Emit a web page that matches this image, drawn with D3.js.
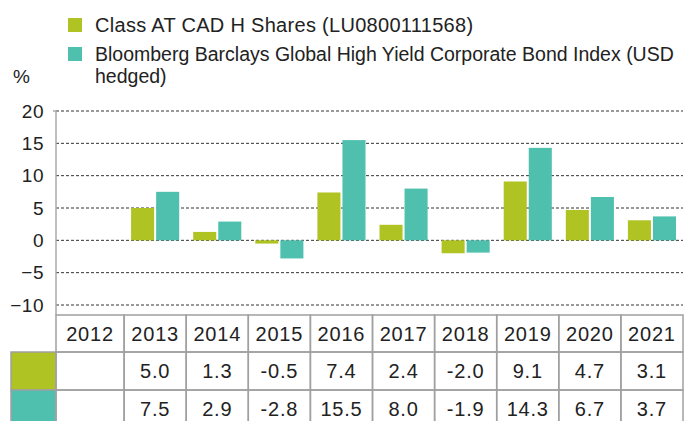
<!DOCTYPE html>
<html>
<head>
<meta charset="utf-8">
<script src="https://cdn.jsdelivr.net/npm/d3@7"></script>
<style>
  body { margin: 0; background: #fff; }
  text { font-family: "Liberation Sans", Arial, sans-serif; fill: #222; }
</style>
</head>
<body>
<div id="chart"></div>
<script>
// Dữ liệu
const years = ["2012","2013","2014","2015","2016","2017","2018","2019","2020","2021"];
const fundValues  = [null, 5.0, 1.3, -0.5, 7.4, 2.4, -2.0, 9.1, 4.7, 3.1];
const indexValues = [null, 7.5, 2.9, -2.8, 15.5, 8.0, -1.9, 14.3, 6.7, 3.7];
const seriesNames = ["Class AT CAD H Shares (LU0800111568)",
                     "Bloomberg Barclays Global High Yield Corporate Bond Index (USD",
                     "hedged)"];
const yTicks = [20, 15, 10, 5, 0, -5, -10];

const W = 686, H = 421;
const colors = ["#afc323", "#4fbfae"];
const plotLeft = 56, plotTop = 111, plotBottom = 305;

const svg = d3.select("#chart").append("svg")
  .attr("width", W).attr("height", H);

// Scales
const x = d3.scaleBand().domain(years).range([62, 683]);
const y = d3.scaleLinear().domain([-10, 20]).range([plotBottom, plotTop]);
const inner = d3.scaleBand().domain([0, 1]).range([7, x.bandwidth() - 7]).paddingInner(0.08);

// Lưới
svg.append("g").selectAll("line").data(yTicks).enter().append("line")
  .attr("x1", plotLeft).attr("x2", 683)
  .attr("y1", d => y(d)).attr("y2", d => y(d))
  .attr("stroke", "#333").attr("stroke-width", 1)
  .attr("stroke-dasharray", "3,2");

// Trục Y
const yAxis = svg.append("g")
  .attr("transform", `translate(${plotLeft},0)`)
  .call(d3.axisLeft(y).tickValues(yTicks).tickSize(0).tickPadding(12));
yAxis.select(".domain").remove();
yAxis.selectAll("text").style("font-size", "19px").attr("fill", "#222")
  .style("letter-spacing", "0.5px")
  .style("font-family", "Liberation Sans, Arial, sans-serif");
svg.append("line")
  .attr("x1", plotLeft).attr("x2", plotLeft)
  .attr("y1", plotTop).attr("y2", 315)
  .attr("stroke", "#aaa").attr("stroke-width", 1.5);
svg.append("line")
  .attr("x1", plotLeft - 3).attr("x2", plotLeft)
  .attr("y1", plotTop).attr("y2", plotTop)
  .attr("stroke", "#aaa").attr("stroke-width", 1.5);

svg.append("text").attr("x", 13).attr("y", 83).style("font-size", "19px").text("%");

// Cột
const series = [fundValues, indexValues];
series.forEach((vals, si) => {
  svg.append("g").selectAll("rect")
    .data(years.map((yr, i) => ({ yr, v: vals[i] })).filter(d => d.v !== null))
    .enter().append("rect")
      .attr("x", d => x(d.yr) + inner(si))
      .attr("width", inner.bandwidth())
      .attr("y", d => y(Math.max(0, d.v)))
      .attr("height", d => Math.abs(y(d.v) - y(0)))
      .attr("fill", colors[si]);
});

// Chú thích
const legend = svg.append("g");
legend.append("rect").attr("x", 68).attr("y", 18).attr("width", 14).attr("height", 14).attr("fill", colors[0]);
legend.append("rect").attr("x", 68).attr("y", 47).attr("width", 14).attr("height", 14).attr("fill", colors[1]);
legend.append("text").attr("x", 95).attr("y", 32).style("font-size", "20px")
  .style("letter-spacing", "0.3px").text(seriesNames[0]);
legend.append("text").attr("x", 95).attr("y", 61).style("font-size", "19.5px").text(seriesNames[1]);
legend.append("text").attr("x", 95).attr("y", 83).style("font-size", "19.5px").text(seriesNames[2]);

// Bảng
const rowTops = [315, 352, 390, 428];
const border = "#a0a0a0";
const colLeft = (i) => i === 0 ? plotLeft : x(years[i]);
const colRight = (i) => x(years[i]) + x.bandwidth();
const table = svg.append("g");

// ô màu
[0, 1].forEach(si => {
  table.append("rect")
    .attr("x", 11).attr("y", rowTops[si + 1])
    .attr("width", plotLeft - 11).attr("height", rowTops[si + 2] - rowTops[si + 1])
    .attr("fill", colors[si]).attr("stroke", border).attr("stroke-width", 1.5);
});

const rows = [years, fundValues.map(v => v === null ? "" : v.toFixed(1)),
              indexValues.map(v => v === null ? "" : v.toFixed(1))];
rows.forEach((row, r) => {
  row.forEach((txt, i) => {
    table.append("rect")
      .attr("x", colLeft(i)).attr("y", rowTops[r])
      .attr("width", colRight(i) - colLeft(i)).attr("height", rowTops[r + 1] - rowTops[r])
      .attr("fill", "none").attr("stroke", border).attr("stroke-width", 1.5);
    table.append("text")
      .attr("x", (colLeft(i) + colRight(i)) / 2)
      .attr("y", (rowTops[r] + rowTops[r + 1]) / 2 + 7)
      .attr("text-anchor", "middle")
      .style("font-size", "20px")
      .style("letter-spacing", "0.8px")
      .text(txt);
  });
});
</script>
</body>
</html>
